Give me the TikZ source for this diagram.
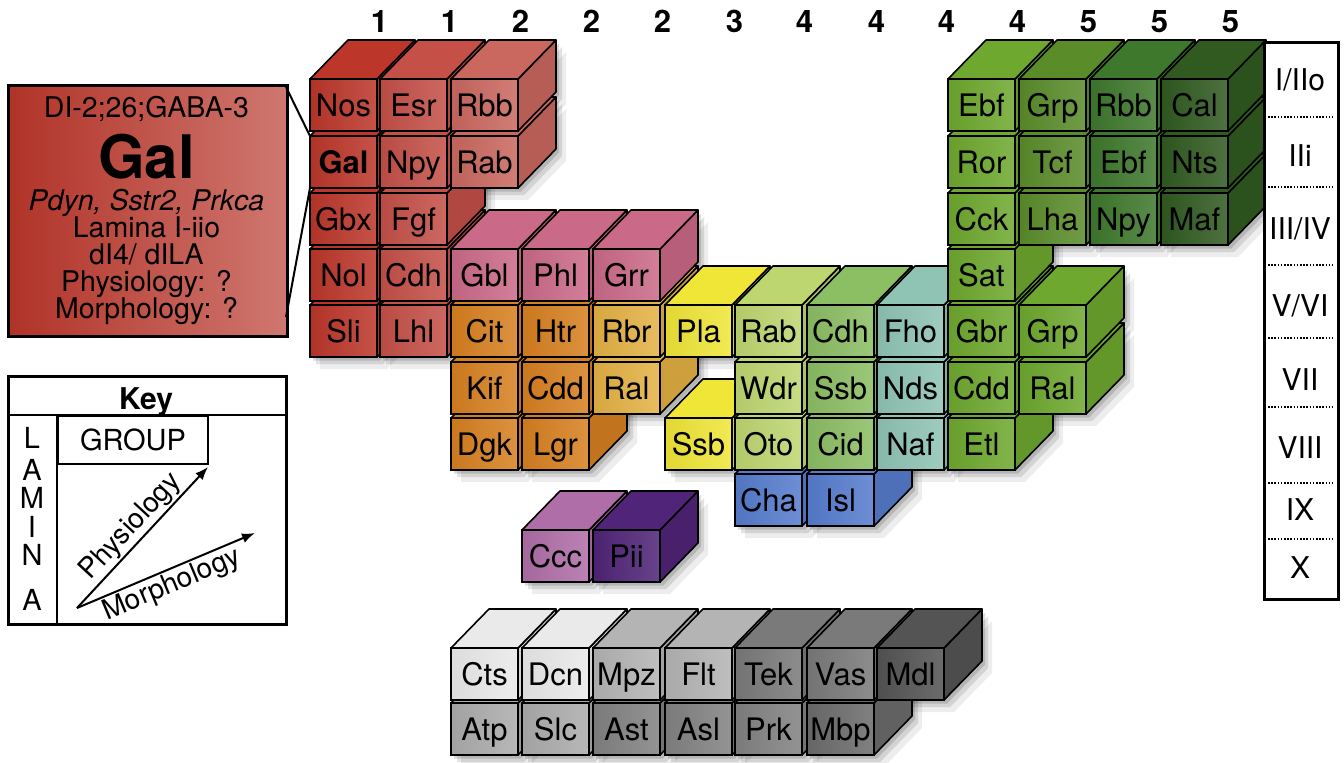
\documentclass[tikz,border=0pt]{standalone}
\usepackage{fontspec}
\setmainfont{TeX Gyre Heros}
\usetikzlibrary{calc,arrows.meta}
\definecolor{redA}{RGB}{188,54,42}
\definecolor{redB}{RGB}{196,80,72}
\definecolor{redC}{RGB}{202,104,96}
\definecolor{pinkC}{RGB}{203,106,136}
\definecolor{orangeC}{RGB}{215,128,32}
\definecolor{lorangeC}{RGB}{228,178,68}
\definecolor{yellowC}{RGB}{240,230,56}
\definecolor{ygreenC}{RGB}{190,214,112}
\definecolor{mgreenC}{RGB}{140,190,100}
\definecolor{tealC}{RGB}{143,196,181}
\definecolor{blueC}{RGB}{86,124,206}
\definecolor{greenA}{RGB}{110,168,46}
\definecolor{greenB}{RGB}{90,140,42}
\definecolor{greenC}{RGB}{62,120,44}
\definecolor{greenD}{RGB}{48,90,32}
\definecolor{purpleL}{RGB}{176,110,168}
\definecolor{purpleD}{RGB}{80,36,120}
\definecolor{grayA}{RGB}{234,234,234}
\definecolor{grayB}{RGB}{172,172,172}
\definecolor{grayC}{RGB}{180,180,180}
\definecolor{grayD}{RGB}{130,130,130}
\definecolor{grayE}{RGB}{122,122,122}
\definecolor{grayF}{RGB}{108,108,108}
\definecolor{grayG}{RGB}{84,84,84}
\newcommand\cellfnt{\fontsize{31}{32}\selectfont}
\newcommand\midfnt{\fontsize{28.5}{29}\selectfont}
\newcommand\setcellpos[2]{%
  \edef\cx{\ifcase#1\or310\or380\or451\or522\or593\or665\or735\or807\or877\or948\or1019\or1090\or1161\fi}%
  \edef\cy{\ifcase#2\or79\or136\or193\or249\or305\or362\or418\or474\or530\or648\or703\fi}}
\newcommand\cubeshadow[5]{%
  \setcellpos{#2}{#3}%
  \foreach \o/\op in {3/0.14,6/0.11,10/0.07}{%
    \fill[black, opacity=\op] (\cx+\o,\cy+1.2*\o) -- ++(67,0) -- ++(38,-39) -- ++(0,52) -- ++(-38,39) -- ++(-67,0) -- cycle;}%
}
\newcommand\cubedraw[5]{%
  \setcellpos{#2}{#3}%
  \path[face, fill=#4!90!black] (\cx+67,\cy) -- ++(38,-39) -- ++(0,52) -- (\cx+67,\cy+52) -- cycle;
  \path[face, fill=#4] (\cx,\cy) -- ++(38,-39) -- ++(67,0) -- (\cx+67,\cy) -- cycle;
  \node[cell, left color=#4!94!black, right color=#4!86!white] (#1) at (\cx+33.5,\cy+26) {#5};
}
\newcommand\allcubes{%
  % column 1
  \mycube{c1r5}{1}{5}{redA}{Sli}
  \mycube{c1r4}{1}{4}{redA}{Nol}
  \mycube{c1r3}{1}{3}{redA}{Gbx}
  \mycube{c1r2}{1}{2}{redA}{\textbf{Gal}}
  \mycube{c1r1}{1}{1}{redA}{Nos}
  % column 2
  \mycube{c2r5}{2}{5}{redB}{Lhl}
  \mycube{c2r4}{2}{4}{redB}{Cdh}
  \mycube{c2r3}{2}{3}{redB}{Fgf}
  \mycube{c2r2}{2}{2}{redB}{Npy}
  \mycube{c2r1}{2}{1}{redB}{Esr}
  % column 3
  \mycube{c3g2}{3}{11}{grayB}{Atp}
  \mycube{c3g1}{3}{10}{grayA}{Cts}
  \mycube{c3r7}{3}{7}{orangeC}{Dgk}
  \mycube{c3r6}{3}{6}{orangeC}{Kif}
  \mycube{c3r5}{3}{5}{orangeC}{Cit}
  \mycube{c3r4}{3}{4}{pinkC}{Gbl}
  \mycube{c3r2}{3}{2}{redC}{Rab}
  \mycube{c3r1}{3}{1}{redC}{Rbb}
  % column 4
  \mycube{c4g2}{4}{11}{grayB}{Slc}
  \mycube{c4g1}{4}{10}{grayA}{Dcn}
  \mycube{c4r9}{4}{9}{purpleL}{Ccc}
  \mycube{c4r7}{4}{7}{orangeC}{Lgr}
  \mycube{c4r6}{4}{6}{orangeC}{Cdd}
  \mycube{c4r5}{4}{5}{orangeC}{Htr}
  \mycube{c4r4}{4}{4}{pinkC}{Phl}
  % column 5
  \mycube{c5g2}{5}{11}{grayD}{Ast}
  \mycube{c5g1}{5}{10}{grayC}{Mpz}
  \mycube{c5r9}{5}{9}{purpleD}{Pii}
  \mycube{c5r6}{5}{6}{lorangeC}{Ral}
  \mycube{c5r5}{5}{5}{lorangeC}{Rbr}
  \mycube{c5r4}{5}{4}{pinkC}{Grr}
  % column 6
  \mycube{c6g2}{6}{11}{grayD}{Asl}
  \mycube{c6g1}{6}{10}{grayC}{Flt}
  \mycube{c6r7}{6}{7}{yellowC}{Ssb}
  \mycube{c6r5}{6}{5}{yellowC}{Pla}
  % column 7
  \mycube{c7g2}{7}{11}{grayD}{Prk}
  \mycube{c7g1}{7}{10}{grayE}{Tek}
  \mycube{c7r8}{7}{8}{blueC}{Cha}
  \mycube{c7r7}{7}{7}{ygreenC}{Oto}
  \mycube{c7r6}{7}{6}{ygreenC}{Wdr}
  \mycube{c7r5}{7}{5}{ygreenC}{Rab}
  % column 8
  \mycube{c8g2}{8}{11}{grayF}{Mbp}
  \mycube{c8g1}{8}{10}{grayE}{Vas}
  \mycube{c8r8}{8}{8}{blueC}{Isl}
  \mycube{c8r7}{8}{7}{mgreenC}{Cid}
  \mycube{c8r6}{8}{6}{mgreenC}{Ssb}
  \mycube{c8r5}{8}{5}{mgreenC}{Cdh}
  % column 9
  \mycube{c9g1}{9}{10}{grayG}{Mdl}
  \mycube{c9r7}{9}{7}{tealC}{Naf}
  \mycube{c9r6}{9}{6}{tealC}{Nds}
  \mycube{c9r5}{9}{5}{tealC}{Fho}
  % column 10
  \mycube{c10r7}{10}{7}{greenA}{Etl}
  \mycube{c10r6}{10}{6}{greenA}{Cdd}
  \mycube{c10r5}{10}{5}{greenA}{Gbr}
  \mycube{c10r4}{10}{4}{greenA}{Sat}
  \mycube{c10r3}{10}{3}{greenA}{Cck}
  \mycube{c10r2}{10}{2}{greenA}{Ror}
  \mycube{c10r1}{10}{1}{greenA}{Ebf}
  % column 11
  \mycube{c11r6}{11}{6}{greenA}{Ral}
  \mycube{c11r5}{11}{5}{greenA}{Grp}
  \mycube{c11r3}{11}{3}{greenB}{Lha}
  \mycube{c11r2}{11}{2}{greenB}{Tcf}
  \mycube{c11r1}{11}{1}{greenB}{Grp}
  % column 12
  \mycube{c12r3}{12}{3}{greenC}{Npy}
  \mycube{c12r2}{12}{2}{greenC}{Ebf}
  \mycube{c12r1}{12}{1}{greenC}{Rbb}
  % column 13
  \mycube{c13r3}{13}{3}{greenD}{Maf}
  \mycube{c13r2}{13}{2}{greenD}{Nts}
  \mycube{c13r1}{13}{1}{greenD}{Cal}
}
\tikzset{
  face/.style={draw=black, line width=1.6pt, line join=round},
  cell/.style={draw=black, line width=1.6pt, minimum width=67pt, minimum height=52pt,
    inner sep=0pt, outer sep=0pt, text height=22pt, text depth=0pt, font=\cellfnt},
  hdr/.style={anchor=base, font=\fontsize{31}{31}\selectfont\bfseries},
  lamlab/.style={font=\fontsize{30}{30}\selectfont, text height=21.5pt, text depth=0pt, inner sep=0pt},
  keyletter/.style={font=\fontsize{29}{29}\selectfont, text height=20.5pt, text depth=0pt, inner sep=0pt},
  galtxt/.style={anchor=base, font=\midfnt, inner sep=0pt},
  boxline/.style={draw=black, line width=2.5pt},
  dotline/.style={line width=2pt, dash pattern=on 1.6pt off 1.6pt},
  keyarrow/.style={line width=2pt, -{Latex[length=13pt,width=10pt]}},
}
\begin{document}
\begin{tikzpicture}[x=1pt, y=-1pt]
\useasboundingbox (0,0) rectangle (1344,763);
% shadows then cubes
\let\mycube\cubeshadow
\allcubes
\let\mycube\cubedraw
\allcubes
% column headers
\foreach \c/\d [count=\i] in {310/1,380/1,451/2,522/2,593/2,665/3,735/4,807/4,877/4,948/4,1019/5,1090/5,1161/5}
  \node[hdr] (h\i) at (\c+69.5,32) {\d};
% lamina column
\node[boxline, fill=white, minimum width=74pt, minimum height=557pt, inner sep=0pt, anchor=north west] (lam) at (1263,41) {};
\foreach \y in {117,187,265,338,407,483,539}
  \draw[dotline] (1268,\y) -- (1333,\y);
\node[lamlab] (lam1) at (1300,80) {I/IIo};
\node[lamlab] (lam2) at (1300,156) {IIi};
\node[lamlab] (lam3) at (1300,229) {III/IV};
\node[lamlab] (lam4) at (1300,306) {V/VI};
\node[lamlab] (lam5) at (1300,380) {VII};
\node[lamlab] (lam6) at (1300,448) {VIII};
\node[lamlab] (lam7) at (1300,510) {IX};
\node[lamlab] (lam8) at (1300,568) {X};
% Gal detail box
\node[boxline, line width=3pt, minimum width=279pt, minimum height=251pt, inner sep=0pt, anchor=north west,
  left color=redA!94!black, right color=redC!90!white] (galbox) at (7,84) {};
\node[galtxt] (g1) at (146.5,117) {DI-2;26;GABA-3};
\node[galtxt, font=\fontsize{60}{60}\selectfont\bfseries] (g2) at (146.5,178) {Gal};
\node[galtxt, font=\midfnt\itshape] (g3) at (146.5,210) {Pdyn, Sstr2, Prkca};
\node[galtxt] (g4) at (146.5,237) {Lamina I-iio};
\node[galtxt] (g5) at (146.5,264) {dI4/ dILA};
\node[galtxt] (g6) at (146.5,291) {Physiology: ?};
\node[galtxt] (g7) at (146.5,318) {Morphology: ?};
\coordinate (gbA) at (286,87);
\coordinate (gbB) at (286,317);
\draw[line width=2pt] (gbA) -- (c1r2.north west);
\draw[line width=2pt] (gbB) -- (c1r2.south west);
% Key
\node[boxline, fill=white, minimum width=278pt, minimum height=248pt, inner sep=0pt, anchor=north west] (key) at (7,375) {};
\node[anchor=base, inner sep=0pt, font=\fontsize{30}{30}\selectfont\bfseries] (keyt) at (146,409) {Key};
\coordinate (kl) at (7,415);
\coordinate (kr) at (285,415);
\draw[line width=2pt] (kl) -- (kr);
\coordinate (lc1) at (57,415);
\coordinate (lc2) at (57,623);
\draw[line width=2pt] (lc1) -- (lc2);
\node[draw, line width=2pt, minimum width=150pt, minimum height=48pt, inner sep=0pt, anchor=north west,
  font=\fontsize{29}{29}\selectfont, text height=20.5pt, text depth=0pt] (grp) at (57,415) {GROUP};
\node[keyletter] (kL1) at (32,438) {L};
\node[keyletter] (kL2) at (32,470) {A};
\node[keyletter] (kL3) at (32,498) {M};
\node[keyletter] (kL4) at (32,527) {I};
\node[keyletter] (kL5) at (32,555) {N};
\node[keyletter] (kL6) at (32,600) {A};
\coordinate (ko) at (77,608);
\coordinate (kp) at (208,467);
\coordinate (km) at (255,533);
\draw[keyarrow] (ko) -- node[sloped, above, inner sep=1.5pt, font=\fontsize{28}{28}\selectfont] (phys) {Physiology} (kp);
\draw[keyarrow] (ko) -- node[sloped, below, inner sep=1.5pt, font=\fontsize{28}{28}\selectfont] (morph) {Morphology} (km);
\end{tikzpicture}
\end{document}
